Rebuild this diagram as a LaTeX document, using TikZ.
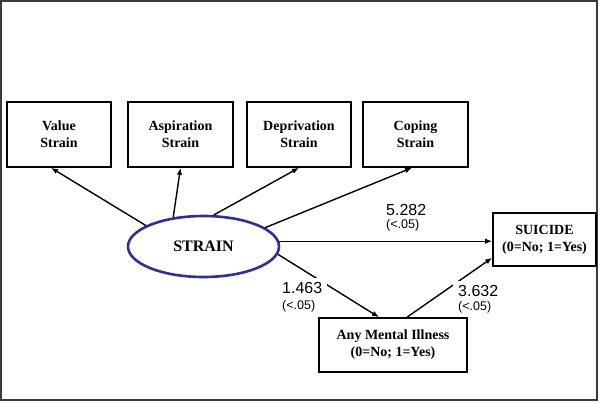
\documentclass[tikz,border=0pt]{standalone}
\usepackage{fontspec}
\setmainfont{Liberation Serif}
\setsansfont{Liberation Sans}
\usetikzlibrary{arrows.meta,shapes.geometric}
\definecolor{navy}{HTML}{2E3192}
\definecolor{framecol}{HTML}{3A3A3A}
\tikzset{
  boxnode/.style={draw=black, line width=1.6pt, rectangle, align=center, inner sep=0pt,
    font=\bfseries\fontsize{14}{17}\selectfont},
  ovalnode/.style={draw=navy, line width=2.6pt, ellipse, inner sep=0pt,
    minimum width=151pt, minimum height=61pt, font=\bfseries\fontsize{16}{20}\selectfont},
  arr/.style={draw=black, line width=1.4pt, -{Latex[length=7pt,width=5.5pt]}},
  numlbl/.style={fill=white, inner sep=5pt, anchor=base west, font=\sffamily\fontsize{16}{18}\selectfont},
  siglbl/.style={inner sep=0pt, anchor=base west, font=\sffamily\fontsize{12.5}{14}\selectfont}
}
\begin{document}
\begin{tikzpicture}[x=1pt,y=-1pt]
\useasboundingbox (0,0) rectangle (600,402);
\fill[white] (0,0) rectangle (600,402);
\draw[framecol, line width=2pt] (1,1) rectangle (597,400);

\node[boxnode, minimum width=104pt, minimum height=65pt] (value) at (59,134.5) {Value\\Strain};
\node[boxnode, minimum width=105pt, minimum height=65pt] (aspir) at (180.5,134.5) {Aspiration\\Strain};
\node[boxnode, minimum width=104pt, minimum height=65pt] (depriv) at (299,134.5) {Deprivation\\Strain};
\node[boxnode, minimum width=105pt, minimum height=65pt] (coping) at (415.5,134.5) {Coping\\Strain};
\node[boxnode, minimum width=103pt, minimum height=53pt] (suicide) at (544.5,239.5) {SUICIDE\\(0=No; 1=Yes)};
\node[boxnode, minimum width=148pt, minimum height=54pt] (mental) at (393,345) {Any Mental Illness\\(0=No; 1=Yes)};
\node[ovalnode] (strain) at (203.5,246.5) {STRAIN};

\draw[arr] (strain.160.7) -- ([xshift=-8pt]value.south);
\draw[arr] (strain.136) -- (aspir.south);
\draw[arr] (strain.72.7) -- (depriv.south);
\draw[arr] (strain.17.6) -- ([xshift=-3.5pt]coping.south);
\draw[arr] (strain.4) -- (strain.4 -| suicide.west);
\draw[arr] (strain.-6.6) -- ([xshift=-14pt]mental.north);
\draw[arr] ([xshift=14pt]mental.north) -- ([yshift=9pt]suicide.south west);

\node[numlbl] (l1) at (381,215) {5.282};
\node[siglbl] (s1) at (386,228.3) {(<.05)};
\node[numlbl] (l2) at (277,293.8) {1.463};
\node[siglbl] (s2) at (282,309.3) {(<.05)};
\node[numlbl] (l3) at (453,296.8) {3.632};
\node[siglbl] (s3) at (458,310.3) {(<.05)};
\end{tikzpicture}
\end{document}
